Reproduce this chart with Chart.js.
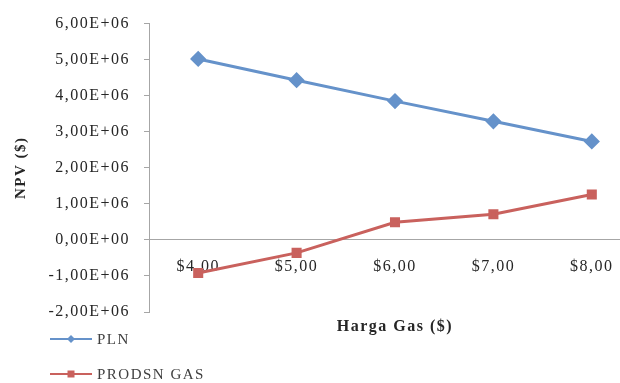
<!DOCTYPE html>
<html>
<head>
<meta charset="utf-8">
<script src="https://cdn.jsdelivr.net/npm/chart.js@4/dist/chart.umd.min.js"></script>
<style>
  html, body { margin: 0; padding: 0; background: #fff; }
  #wrap { width: 620px; height: 383px; overflow: hidden; position: relative; }
  canvas { display: block; }
</style>
</head>
<body>
<div id="wrap"><canvas id="npv-chart" width="650" height="383"></canvas></div>
<script>
// harga gas per MMBTU
const hargaGas = ["$4,00", "$5,00", "$6,00", "$7,00", "$8,00"];
// NPV untuk masing-masing pihak
const npvPLN = [5020000, 4430000, 3850000, 3290000, 2730000];
const npvProdusen = [-920000, -360000, 490000, 710000, 1260000];

const axisGray = "#a6a6a6";
const textColor = "#262626";

Chart.defaults.font.family = "'Liberation Serif', 'Times New Roman', serif";
Chart.defaults.font.size = 16;
Chart.defaults.color = textColor;

// format angka gaya Excel: 6,00E+06
function formatSci(v) {
    if (v === 0) return "0,00E+00";
    const exp = Math.floor(Math.log10(Math.abs(v)));
    const mant = (v / Math.pow(10, exp)).toFixed(2).replace(".", ",");
    const e = String(Math.abs(exp)).padStart(2, "0");
    return mant + "E" + (exp < 0 ? "-" : "+") + e;
}

// jarak huruf sedikit lebih lebar, seperti teks di Excel
const spacing = {
    id: "spacing",
    beforeDraw(chart) {
        chart.ctx.letterSpacing = "1.5px";
    }
};

// legenda di kiri bawah: garis + penanda
const legendBawah = {
    id: "legendBawah",
    afterDraw(chart) {
        const ctx = chart.ctx;
        const rows = [339, 374];
        ctx.save();
        chart.data.datasets.forEach(function(ds, i) {
            const y = rows[i];
            ctx.strokeStyle = ds.borderColor;
            ctx.fillStyle = ds.borderColor;
            ctx.lineWidth = 2;
            ctx.beginPath();
            ctx.moveTo(50, y);
            ctx.lineTo(92, y);
            ctx.stroke();
            ctx.beginPath();
            if (ds.pointStyle === "rectRot") {
                ctx.moveTo(71, y - 4);
                ctx.lineTo(75, y);
                ctx.lineTo(71, y + 4);
                ctx.lineTo(67, y);
                ctx.closePath();
            } else {
                ctx.rect(67.5, y - 3.5, 7, 7);
            }
            ctx.fill();
            ctx.fillStyle = "#404040";
            ctx.font = "15px 'Liberation Serif', serif";
            ctx.textBaseline = "middle";
            ctx.textAlign = "left";
            ctx.fillText(ds.label, 97, y + 1);
        });
        ctx.restore();
    }
};

const ctx = document.getElementById("npv-chart").getContext("2d");
const npvChart = new Chart(ctx, {
    type: "line",
    data: {
        labels: hargaGas,
        datasets: [{
            label: "PLN",
            data: npvPLN,
            borderColor: "#6592ca",
            backgroundColor: "#6592ca",
            borderWidth: 3,
            pointStyle: "rectRot",
            pointRadius: 6,
            pointHoverRadius: 6,
            tension: 0
        }, {
            label: "PRODSN GAS",
            data: npvProdusen,
            borderColor: "#c9615d",
            backgroundColor: "#c9615d",
            borderWidth: 3,
            pointStyle: "rect",
            pointRadius: 5,
            pointHoverRadius: 5,
            tension: 0
        }]
    },
    options: {
        responsive: false,
        animation: false,
        events: [],
        layout: {
            padding: { left: 0, top: 17, right: 4, bottom: 71 }
        },
        plugins: {
            legend: { display: false },
            tooltip: { enabled: false }
        },
        scales: {
            x: {
                type: "category",
                position: { y: 0 },
                offset: true,
                grid: { display: false, drawTicks: false },
                border: { display: true, color: axisGray, width: 1 },
                ticks: { padding: 17, maxRotation: 0, autoSkip: false },
                title: {
                    display: true,
                    text: "Harga Gas ($)",
                    font: { weight: "bold", size: 16 },
                    padding: { top: 24, bottom: 0 }
                }
            },
            y: {
                min: -2000000,
                max: 6000000,
                ticks: {
                    stepSize: 1000000,
                    padding: 14,
                    callback: function(value) { return formatSci(value); }
                },
                grid: {
                    drawOnChartArea: false,
                    drawTicks: true,
                    tickLength: 5,
                    color: axisGray
                },
                border: { display: true, color: axisGray, width: 1 },
                title: {
                    display: true,
                    text: "NPV ($)",
                    font: { weight: "bold", size: 15 },
                    padding: { top: 12, bottom: 0 }
                },
                afterFit: function(scale) { scale.width = 149; }
            }
        }
    },
    plugins: [spacing, legendBawah]
});
</script>
</body>
</html>
